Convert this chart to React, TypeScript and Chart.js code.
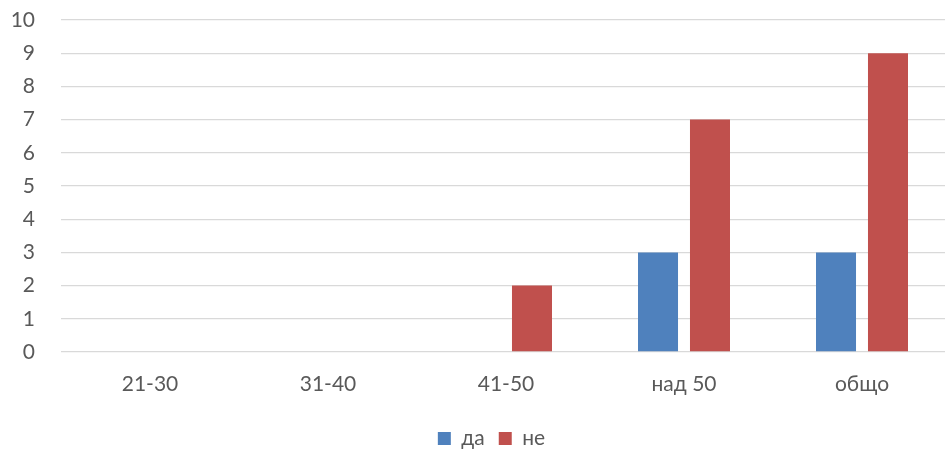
import React, { useEffect, useRef } from "react";
import { Chart, registerables } from "chart.js";

Chart.register(...registerables);

const categories = ["21-30", "31-40", "41-50", "над 50", "общо"];
const seriesDa = [0, 0, 0, 3, 3];
const seriesNe = [0, 0, 2, 7, 9];
const yTicks = [0, 1, 2, 3, 4, 5, 6, 7, 8, 9, 10];

const FONT = "Lato, 'Open Sans', sans-serif";
const TEXT = "#595959";

const legendShift = {
  id: "legendShift",
  afterLayout(chart: any) {
    const l = chart.legend;
    if (l) {
      l.left += 16;
      l.right += 16;
    }
  },
};

export default function App() {
  const ref = useRef<HTMLCanvasElement | null>(null);
  useEffect(() => {
    document.body.style.margin = "0";
    const ctx = ref.current!;
    const chart = new Chart(ctx, {
      type: "bar",
      data: {
        labels: categories,
        datasets: [
          {
            label: "да",
            data: seriesDa,
            backgroundColor: "#4F81BD",
            barPercentage: 0.77,
            categoryPercentage: 0.584,
          },
          {
            label: "не",
            data: seriesNe,
            backgroundColor: "#C0504D",
            barPercentage: 0.77,
            categoryPercentage: 0.584,
          },
        ],
      },
      plugins: [legendShift],
      options: {
        animation: false,
        responsive: false,
        maintainAspectRatio: false,
        layout: { padding: { top: 20, right: 0, left: 0, bottom: 0 } },
        plugins: {
          tooltip: { enabled: false },
          legend: {
            position: "bottom",
            labels: {
              boxWidth: 13,
              boxHeight: 13,
              padding: 14,
              color: TEXT,
              font: { family: FONT, size: 21 },
            },
          },
        },
        scales: {
          x: {
            grid: { display: false, drawTicks: false },
            border: { display: false },
            ticks: {
              color: TEXT,
              font: { family: FONT, size: 21 },
              padding: 20,
              maxRotation: 0,
            },
            afterFit: (s: any) => {
              s.height = 62;
            },
          },
          y: {
            min: 0,
            max: 10,
            afterBuildTicks: (s: any) => {
              s.ticks = yTicks.map((v) => ({ value: v }));
            },
            grid: { color: "#D9D9D9", lineWidth: 1.3, drawTicks: false },
            border: { display: false },
            ticks: {
              color: TEXT,
              font: { family: FONT, size: 21 },
              padding: 26,
            },
            afterFit: (s: any) => {
              s.width = 61;
              s.paddingTop = 12;
              s.paddingBottom = 12;
            },
          },
        },
      },
    });
    return () => chart.destroy();
  }, []);
  return (
    <div style={{ width: 945, height: 452, overflow: "hidden" }}>
      <canvas ref={ref} width={951} height={459} style={{ display: "block" }} />
    </div>
  );
}
